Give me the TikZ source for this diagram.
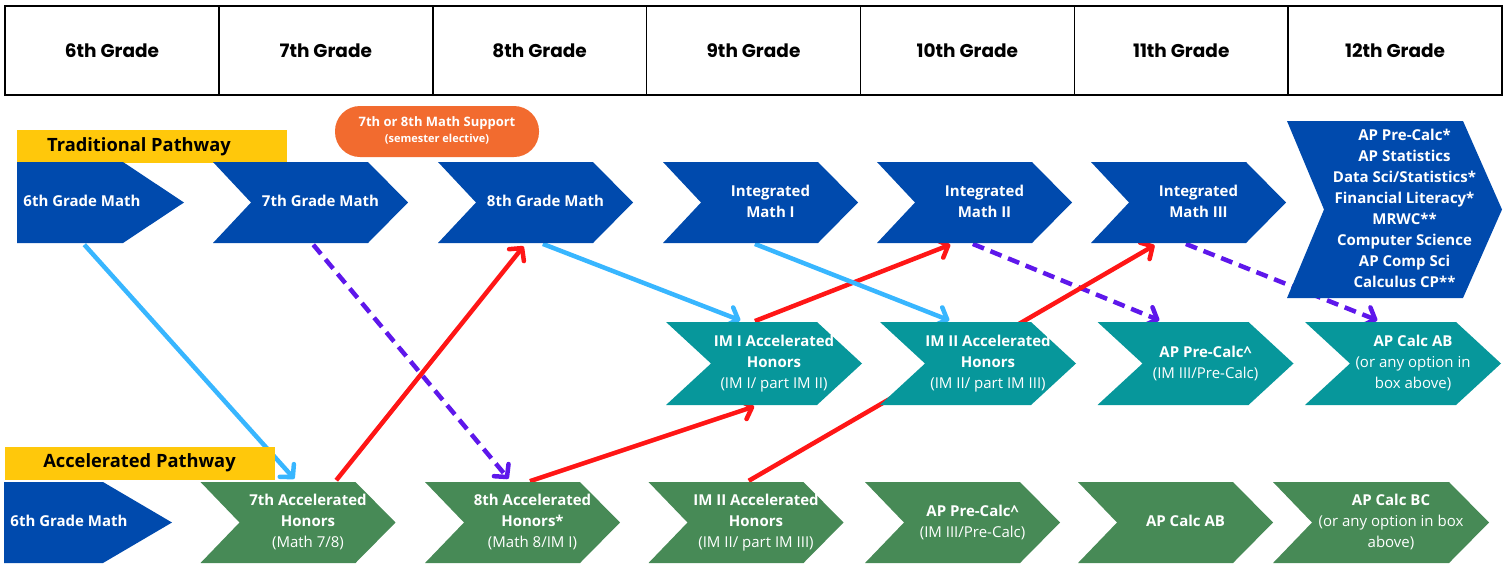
\documentclass[tikz,border=0pt]{standalone}
\usepackage{fontspec}
\setmainfont{Open Sans}
\newfontfamily\headfont{Poppins}
\usetikzlibrary{arrows.meta,backgrounds}

\definecolor{pathblue}{HTML}{004AAD}
\definecolor{pathteal}{HTML}{07979B}
\definecolor{pathgreen}{HTML}{478A56}
\definecolor{tagyellow}{HTML}{FFC80B}
\definecolor{pillorange}{HTML}{F26B2F}
\definecolor{linkblue}{HTML}{38B6FF}
\definecolor{linkred}{HTML}{FF1616}
\definecolor{linkpurple}{HTML}{5E17EB}

% text of a chevron, pushed right by half of the optional space
\newcommand{\chevtext}[2][20pt]{\hspace*{#1}\begin{tabular}{@{}c@{}}#2\end{tabular}}
\newcommand{\chevsub}[1]{{\mdseries #1}}

\tikzset{
    chev/.style n args={3}{inner sep=0pt, text=white,
        font=\fontsize{15}{21}\selectfont\bfseries,
        path picture={\fill[#1] (path picture bounding box.north west)
            -- ([xshift=-#3]path picture bounding box.north east)
            -- (path picture bounding box.east)
            -- ([xshift=-#3]path picture bounding box.south east)
            -- (path picture bounding box.south west)
            -- ([xshift=#2]path picture bounding box.west) -- cycle;}},
    traditional/.style={chev={pathblue}{38pt}{40pt}, minimum width=195pt, minimum height=81pt},
    middle/.style={chev={pathteal}{45pt}{45pt}, minimum width=196pt, minimum height=83pt},
    accelerated/.style={chev={pathgreen}{39pt}{40pt}, minimum width=195pt, minimum height=81pt},
    gradecell/.style={draw, line width=1.6pt, minimum width=213.86pt, minimum height=89pt,
        font=\headfont\bfseries\fontsize{18.5}{22}\selectfont},
    pathtag/.style={fill=tagyellow, inner sep=0pt, minimum width=270pt, minimum height=33pt,
        font=\fontsize{18.3}{22}\selectfont\bfseries},
    link/.style={line width=4.5pt, -{Straight Barb[length=9pt,width=19pt,round]},
        shorten <=2pt, shorten >=4pt},
    bluelink/.style={link, linkblue},
    redlink/.style={link, linkred},
    purplelink/.style={link, linkpurple, dash pattern=on 12pt off 7pt},
}

\begin{document}
\begin{tikzpicture}[x=1pt, y=-1pt]
    \useasboundingbox (0,0) rectangle (1509,566);

    % grade header
    \foreach \g [count=\i from 0] in {6th,7th,8th,9th,10th,11th,12th}
        \node[gradecell] (hd\g) at ({5+213.86*(\i+0.5)},50.5) {\g\ Grade};

    % traditional pathway
    \node[pathtag] (tradtag) at (152,146.5) {\hspace*{-26pt}Traditional Pathway};
    \node[chev={pathblue}{0pt}{61pt}, minimum width=167pt, minimum height=81pt] (trad6) at (100.5,202.5) {\chevtext[-37pt]{6th Grade Math}};
    \node[traditional] (g7) at (310.5,202.5) {\chevtext{7th Grade Math}};
    \node[traditional] (g8) at (535.5,202.5) {\chevtext{8th Grade Math}};
    \node[traditional] (im1) at (760.5,202.5) {\chevtext{Integrated\\Math I}};
    \node[traditional] (im2) at (974.5,202.5) {\chevtext{Integrated\\Math II}};
    \node[traditional] (im3) at (1188.5,202.5) {\chevtext{Integrated\\Math III}};
    \node[chev={pathblue}{37pt}{39pt}, minimum width=215pt, minimum height=177pt] (senior) at (1394.5,209.5)
        {\chevtext{AP Pre-Calc*\\AP Statistics\\Data Sci/Statistics*\\Financial Literacy*\\MRWC**\\Computer Science\\AP Comp Sci\\Calculus CP**}};

    \node[fill=pillorange, rounded corners=25pt, minimum width=204pt, minimum height=51pt, inner sep=0pt, text=white,
          font=\fontsize{13}{16}\selectfont\bfseries] (support) at (437,131.5)
        {\begin{tabular}{@{}c@{}}7th or 8th Math Support\\{\fontsize{11}{12}\selectfont (semester elective)}\end{tabular}};

    % accelerated honors (middle row)
    \node[middle] (a1) at (764,363.5) {\chevtext{IM I Accelerated\\Honors\\\chevsub{(IM I/ part IM II)}}};
    \node[middle] (a2) at (978,363.5) {\chevtext{IM II Accelerated\\Honors\\\chevsub{(IM II/ part IM III)}}};
    \node[middle] (a3) at (1195.5,363.5) {\chevtext{AP Pre-Calc\^{}\\\chevsub{(IM III/Pre-Calc)}}};
    \node[middle] (a4) at (1403,363.5) {\chevtext{AP Calc AB\\\chevsub{(or any option in}\\\chevsub{box above)}}};

    % accelerated pathway
    \node[pathtag] (acceltag) at (139.5,463) {Accelerated Pathway};
    \node[chev={pathblue}{0pt}{69pt}, minimum width=168pt, minimum height=81pt] (b6) at (88,522.5) {\chevtext[-38pt]{6th Grade Math}};
    \node[accelerated] (b7) at (298,522.5) {\chevtext{7th Accelerated\\Honors\\\chevsub{(Math 7/8)}}};
    \node[accelerated] (b8) at (522.5,522.5) {\chevtext{8th Accelerated\\Honors*\\\chevsub{(Math 8/IM I)}}};
    \node[accelerated] (b9) at (746,522.5) {\chevtext{IM II Accelerated\\Honors\\\chevsub{(IM II/ part IM III)}}};
    \node[accelerated] (b10) at (962.5,522.5) {\chevtext{AP Pre-Calc\^{}\\\chevsub{(IM III/Pre-Calc)}}};
    \node[accelerated] (b11) at (1175.5,522.5) {\chevtext{AP Calc AB}};
    \node[accelerated, minimum width=216pt] (b12) at (1381,522.5) {\chevtext{AP Calc BC\\\chevsub{(or any option in box}\\\chevsub{above)}}};

    % moves between pathways
    \begin{scope}[on background layer]
        \draw[bluelink] ([xshift=-17.5pt]trad6.south) -- ([xshift=-1pt]b7.north);
        \draw[purplelink] ([xshift=1.5pt]g7.south) -- ([xshift=-11.5pt]b8.north);
        \draw[redlink] ([xshift=37pt]b7.north) -- ([xshift=-9.5pt]g8.south);
        \draw[bluelink] ([xshift=5.5pt]g8.south) -- ([xshift=-20pt]a1.north);
        \draw[redlink] ([xshift=5.5pt]b8.north) -- ([xshift=-6pt]a1.south);
        \draw[redlink] ([xshift=-11pt]a1.north) -- ([xshift=-20.5pt]im2.south);
        \draw[bluelink] ([xshift=-7.5pt]im1.south) -- ([xshift=-25pt]a2.north);
        \draw[purplelink] ([xshift=-3.5pt]im2.south) -- ([xshift=-32.5pt]a3.north);
        \draw[redlink] ([xshift=1pt]b9.north) -- ([xshift=-30.5pt]im3.south);
        \draw[purplelink] ([xshift=-4.5pt]im3.south) -- ([xshift=-22pt]a4.north);
    \end{scope}
\end{tikzpicture}
\end{document}
